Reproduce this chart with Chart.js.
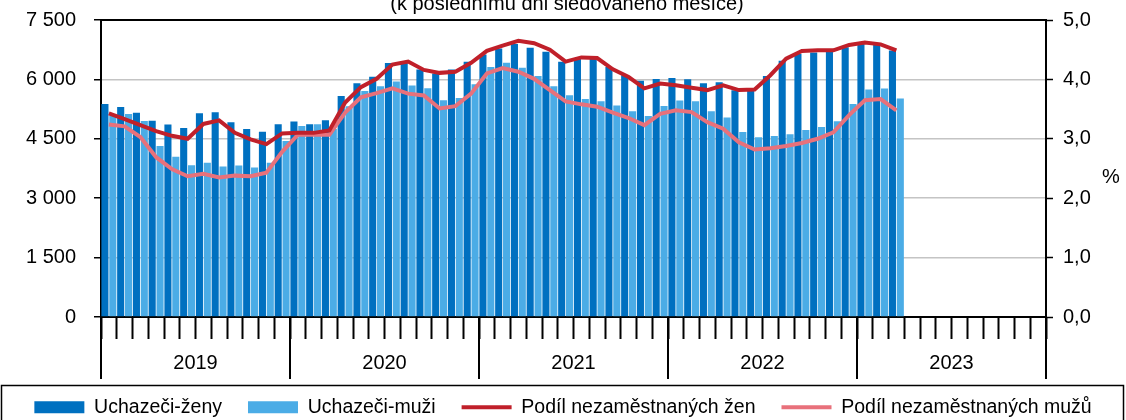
<!DOCTYPE html>
<html>
<head>
<meta charset="utf-8">
<script src="https://cdn.jsdelivr.net/npm/chart.js@4/dist/chart.umd.min.js"></script>
<style>
body { margin: 0; background: #fff; }
#wrap { width: 1126px; height: 420px; position: relative; }
</style>
</head>
<body>
<div id="wrap"><canvas id="chart"></canvas></div>
<script>
const years = ['2019', '2020', '2021', '2022', '2023'];
const titleText = '(k poslednímu dni sledovaného měsíce)';

// uchazeči - ženy (dark bars)
const women = [
    5380, 5300, 5160, 4955, 4860, 4772, 5144, 5169, 4916, 4750, 4675, 4865,
    4937, 4865, 4967, 5583, 5904, 6064, 6415, 6444, 6251, 6150, 6251, 6444,
    6631, 6783, 6892, 6800, 6698, 6444, 6512, 6555, 6310, 6107, 5963, 6013,
    6038, 6006, 5904, 5930, 5727, 5769, 6089, 6469, 6639, 6682, 6698, 6812,
    6926, 6867, 6730, null, null, null, null, null, null, null, null, null
];
// uchazeči - muži (light bars)
const men = [
    5090, 5127, 4950, 4316, 4046, 3835, 3895, 3801, 3826, 3775, 3895, 4442,
    4822, 4865, 4750, 5321, 5710, 5828, 5947, 5846, 5778, 5473, 5532, 5879,
    6310, 6419, 6292, 6089, 5828, 5600, 5506, 5448, 5339, 5195, 5076, 5329,
    5465, 5448, 5195, 5035, 4670, 4536, 4569, 4612, 4721, 4797, 4941, 5376,
    5748, 5769, 5516, null, null, null, null, null, null, null, null, null
];
// podíl nezaměstnaných (%)
const womenPct = [
    3.43, 3.33, 3.23, 3.13, 3.05, 3.00, 3.25, 3.31, 3.10, 2.99, 2.91, 3.09,
    3.10, 3.10, 3.14, 3.61, 3.87, 4.01, 4.25, 4.30, 4.16, 4.11, 4.13, 4.28,
    4.48, 4.57, 4.65, 4.61, 4.50, 4.30, 4.37, 4.36, 4.17, 4.04, 3.85, 3.93,
    3.90, 3.86, 3.82, 3.90, 3.82, 3.83, 4.07, 4.35, 4.48, 4.49, 4.49, 4.58,
    4.62, 4.59, 4.49, null, null, null, null, null, null, null, null, null
];
const menPct = [
    3.24, 3.21, 3.03, 2.69, 2.49, 2.37, 2.41, 2.35, 2.38, 2.37, 2.43, 2.78,
    3.07, 3.07, 3.07, 3.44, 3.70, 3.77, 3.85, 3.76, 3.73, 3.51, 3.55, 3.76,
    4.10, 4.19, 4.13, 4.01, 3.82, 3.63, 3.58, 3.54, 3.44, 3.35, 3.23, 3.42,
    3.48, 3.45, 3.28, 3.17, 2.94, 2.82, 2.84, 2.88, 2.93, 3.00, 3.11, 3.40,
    3.65, 3.67, 3.48, null, null, null, null, null, null, null, null, null
];

const labels = [];
years.forEach(y => {
    for (let m = 1; m <= 12; m++) labels.push(m + '/' + y);
});

Chart.defaults.font.family = "'Liberation Sans', Arial, sans-serif";
Chart.defaults.font.size = 20;
Chart.defaults.color = '#000';

// title, year labels, frame, % label, legend border
const extras = {
    id: 'extras',
    afterDraw(chart) {
        const ctx = chart.ctx;
        const a = chart.chartArea;
        const x = chart.scales.x;
        const step = (a.right - a.left) / labels.length;
        ctx.save();
        ctx.strokeStyle = '#000';
        ctx.lineWidth = 2;
        ctx.beginPath();
        ctx.moveTo(a.left, a.top);
        ctx.lineTo(a.right, a.top);
        ctx.stroke();

        for (let i = 0; i <= years.length; i++) {
            const px = i < years.length ? x.getPixelForValue(i * 12) - step / 2 : a.right;
            ctx.beginPath();
            ctx.moveTo(px, a.bottom);
            ctx.lineTo(px, a.bottom + 62);
            ctx.stroke();
        }
        ctx.fillStyle = '#000';
        ctx.font = "20px 'Liberation Sans', Arial, sans-serif";
        ctx.textAlign = 'center';
        ctx.textBaseline = 'middle';
        years.forEach((y, i) => {
            const px = x.getPixelForValue(i * 12 + 6) - step / 2;
            ctx.fillText(y, px, a.bottom + 46);
        });

        ctx.textBaseline = 'alphabetic';
        ctx.fillText(titleText, 567, 10);
        ctx.fillText('%', 1111, (a.top + a.bottom) / 2 + 14);

        ctx.lineWidth = 1.5;
        ctx.strokeRect(1.5, 385.5, 1122, 60);
        ctx.restore();
    }
};

const noPad = (s) => { s.paddingTop = 0; s.paddingBottom = 0; };

const config = {
    type: 'bar',
    data: {
        labels: labels,
        datasets: [
            {
                label: 'Uchazeči-ženy',
                data: women,
                backgroundColor: '#0070C0',
                borderWidth: 0,
                pointStyle: 'rect',
                yAxisID: 'y',
                order: 1
            },
            {
                label: 'Uchazeči-muži',
                data: men,
                backgroundColor: '#4BACE6',
                borderWidth: 0,
                pointStyle: 'rect',
                yAxisID: 'y',
                order: 1
            },
            {
                type: 'line',
                label: 'Podíl nezaměstnaných žen',
                data: womenPct,
                borderColor: '#C0202A',
                backgroundColor: '#C0202A',
                borderWidth: 4,
                pointRadius: 0,
                pointBorderWidth: 4,
                pointStyle: 'line',
                tension: 0,
                yAxisID: 'y1',
                order: 0
            },
            {
                type: 'line',
                label: 'Podíl nezaměstnaných mužů',
                data: menPct,
                borderColor: '#E8717B',
                backgroundColor: '#E8717B',
                borderWidth: 4,
                pointRadius: 0,
                pointBorderWidth: 4,
                pointStyle: 'line',
                tension: 0,
                yAxisID: 'y1',
                order: 0
            }
        ]
    },
    options: {
        responsive: true,
        maintainAspectRatio: false,
        animation: false,
        layout: {
            padding: { top: 20, left: 0, right: 0, bottom: -7 }
        },
        datasets: {
            bar: { categoryPercentage: 1, barPercentage: 0.9 }
        },
        plugins: {
            tooltip: { enabled: false },
            legend: {
                position: 'bottom',
                labels: {
                    usePointStyle: true,
                    pointStyleWidth: 50,
                    boxHeight: 12,
                    padding: 26,
                    font: { size: 19.5 },
                    sort: (p, q) => p.datasetIndex - q.datasetIndex
                }
            }
        },
        scales: {
            x: {
                offset: true,
                grid: {
                    offset: true,
                    drawOnChartArea: false,
                    tickLength: 22,
                    tickColor: '#000',
                    tickWidth: 2
                },
                border: { color: '#000', width: 2 },
                ticks: { display: false },
                afterFit: (s) => { s.height = 54.5; }
            },
            y: {
                position: 'left',
                min: 0,
                max: 7500,
                ticks: {
                    stepSize: 1500,
                    padding: 18,
                    callback: v => String(v).replace(/\B(?=(\d{3})+(?!\d))/g, ' ')
                },
                grid: {
                    color: '#C4C4C4',
                    lineWidth: 1.5,
                    tickLength: 7,
                    tickColor: '#000',
                    tickWidth: 1.5
                },
                border: { color: '#000', width: 2 },
                afterFit: (s) => { noPad(s); s.width = 101; }
            },
            y1: {
                position: 'right',
                min: 0,
                max: 5,
                ticks: {
                    stepSize: 1,
                    padding: 10,
                    callback: v => v.toFixed(1).replace('.', ',')
                },
                grid: {
                    drawOnChartArea: false,
                    tickLength: 7,
                    tickColor: '#000',
                    tickWidth: 1.5
                },
                border: { color: '#000', width: 2 },
                afterFit: (s) => { noPad(s); s.width = 80; }
            }
        }
    },
    plugins: [extras]
};

new Chart(document.getElementById('chart'), config);
</script>
</body>
</html>
